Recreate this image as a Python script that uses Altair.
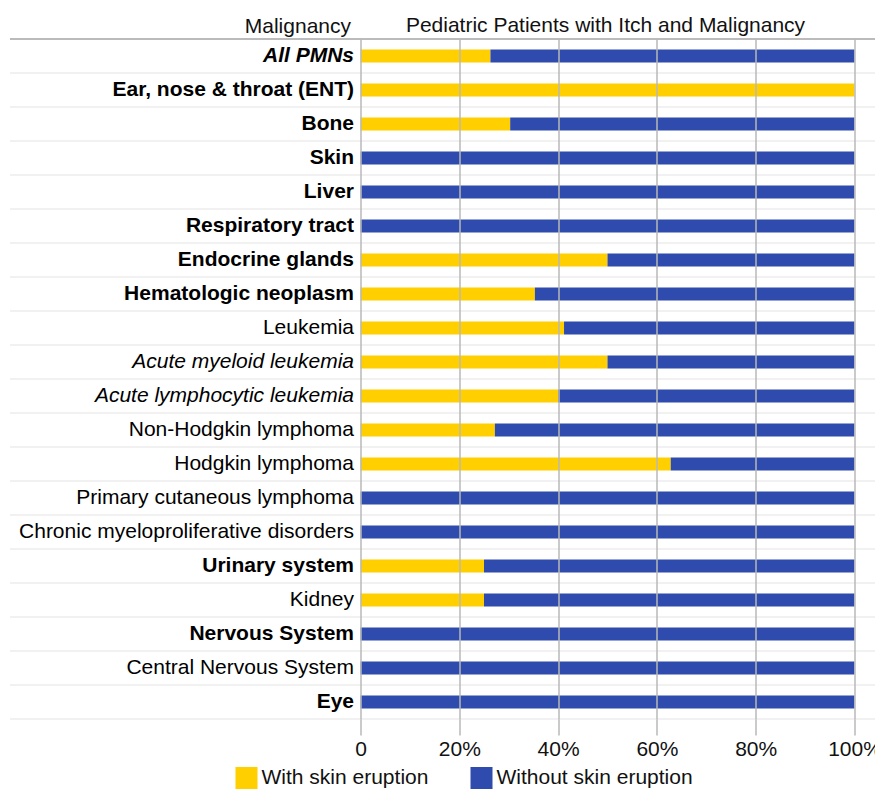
import altair as alt
import pandas as pd

categories = [
    "All PMNs", "Ear, nose & throat (ENT)", "Bone", "Skin", "Liver",
    "Respiratory tract", "Endocrine glands", "Hematologic neoplasm", "Leukemia",
    "Acute myeloid leukemia", "Acute lymphocytic leukemia", "Non-Hodgkin lymphoma",
    "Hodgkin lymphoma", "Primary cutaneous lymphoma",
    "Chronic myeloproliferative disorders", "Urinary system", "Kidney",
    "Nervous System", "Central Nervous System", "Eye",
]
with_eruption = [26.3, 100, 30.3, 0, 0, 0, 50, 35.3, 41.2, 50, 40, 27.2, 62.8, 0, 0, 25, 25, 0, 0, 0]
without_eruption = [73.7, 0, 69.7, 100, 100, 100, 50, 64.7, 58.8, 50, 60, 72.8, 37.2, 100, 100, 75, 75, 100, 100, 100]
series = ["With skin eruption", "Without skin eruption"]
colors = ["#FFCF00", "#2F4BAD"]

bold_labels = ["Ear, nose & throat (ENT)", "Bone", "Skin", "Liver", "Respiratory tract",
               "Endocrine glands", "Hematologic neoplasm", "Urinary system",
               "Nervous System", "Eye", "All PMNs"]
italic_labels = ["Acute myeloid leukemia", "Acute lymphocytic leukemia", "All PMNs"]

rows = []
for c, w, wo in zip(categories, with_eruption, without_eruption):
    rows.append({"cat": c, "series": series[0], "pct": w, "ord": 0})
    rows.append({"cat": c, "series": series[1], "pct": wo, "ord": 1})
df = pd.DataFrame(rows)
sep_df = pd.DataFrame({"cat": categories})
top_df = pd.DataFrame({"k": [0]})

def js_list(items):
    return "[" + ",".join("'" + s + "'" for s in items) + "]"

FONT = "Liberation Sans"
FS = 21

y_enc = alt.Y(
    "cat:N", sort=categories,
    scale=alt.Scale(paddingInner=0, paddingOuter=0),
    axis=alt.Axis(
        domain=False, ticks=False, grid=False,
        labelFontSize=FS, labelFont=FONT, labelColor="#000000",
        labelPadding=7, labelLimit=600,
        labelFontWeight={"condition": {"test": "indexof(" + js_list(bold_labels) + ", datum.value) >= 0", "value": "bold"}, "value": "normal"},
        labelFontStyle={"condition": {"test": "indexof(" + js_list(italic_labels) + ", datum.value) >= 0", "value": "italic"}, "value": "normal"},
        title="Malignancy", titleAngle=0, titleAlign="right", titleBaseline="alphabetic",
        titleX=-10, titleY=-7, titleFontSize=FS, titleFont=FONT,
        titleFontWeight="normal", titleColor="#111111",
    ),
)

bars = alt.Chart(df).mark_bar(size=13).encode(
    y=y_enc,
    x=alt.X(
        "pct:Q", stack="zero",
        scale=alt.Scale(domain=[0, 100], nice=False),
        axis=alt.Axis(
            values=[0, 20, 40, 60, 80, 100],
            labelExpr="datum.value == 0 ? '0' : datum.value + '%'",
            grid=True, gridColor="#b8b8b8", gridWidth=1.5,
            ticks=True, tickColor="#b8b8b8", tickWidth=1.5, tickSize=16,
            domain=False, labelFontSize=FS, labelFont=FONT, labelColor="#111111",
            labelPadding=3, labelFlush=False, labelOverlap=False,
            title=None, zindex=1,
        ),
    ),
    color=alt.Color(
        "series:N", sort=series,
        scale=alt.Scale(domain=series, range=colors),
        legend=alt.Legend(
            title=None, orient="none", direction="horizontal",
            legendX=-125, legendY=728,
            symbolType="square", symbolSize=484, symbolStrokeWidth=0,
            labelFontSize=FS, labelFont=FONT, labelColor="#111111",
            columnPadding=42, labelOffset=4, padding=0, labelLimit=400,
        ),
    ),
    order=alt.Order("ord:Q"),
)

seps = alt.Chart(sep_df).mark_rule(color="#ececec", strokeWidth=1.5).encode(
    y=alt.Y("cat:N", sort=categories, bandPosition=1),
    x=alt.value(-350.5),
    x2=alt.value(522.5),
)

top_line = alt.Chart(top_df).mark_rule(color="#bbbbbb", strokeWidth=2).encode(
    y=alt.value(0),
    x=alt.value(-350.5),
    x2=alt.value(522.5),
)

chart = alt.layer(seps, bars, top_line).properties(
    width=494, height=680,
    title=alt.TitleParams(
        "Pediatric Patients with Itch and Malignancy",
        fontSize=FS, font=FONT, fontWeight="normal", color="#111111",
        anchor="middle", frame="group", baseline="alphabetic", offset=7,
        dy=45, dx=-2,
    ),
    autosize=alt.AutoSizeParams(type="none"),
    padding={"left": 352.5, "top": 31, "right": 20.5, "bottom": 71},
).configure_view(stroke=None)

chart.save("out.html", embed_options={"renderer": "svg", "actions": False})
